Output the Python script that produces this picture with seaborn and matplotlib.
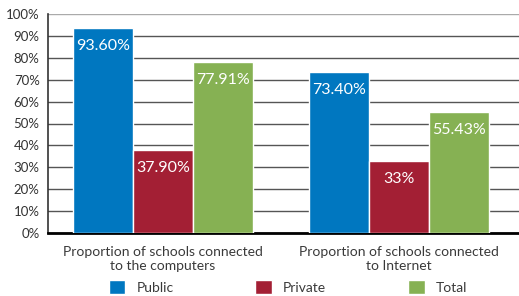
import pandas as pd
import matplotlib
matplotlib.use("Agg")
import matplotlib.pyplot as plt
import seaborn as sns
from matplotlib.patches import Patch

# dati
categories = ["Proportion of schools connected\nto the computers",
              "Proportion of schools connected\nto Internet"]
sectors = ["Public", "Private", "Total"]
public = [93.60, 73.40]
private = [37.90, 33.0]
total = [77.91, 55.43]
labels_public = ["93.60%", "73.40%"]
labels_private = ["37.90%", "33%"]
labels_total = ["77.91%", "55.43%"]
yticks = list(range(0, 101, 10))

colors = {"Public": "#0077c0", "Private": "#a31f34", "Total": "#86b153"}

df = pd.DataFrame({
    "cat": categories * 3,
    "sector": ["Public"] * 2 + ["Private"] * 2 + ["Total"] * 2,
    "value": public + private + total,
})
text_labels = {"Public": labels_public, "Private": labels_private, "Total": labels_total}

sns.set_style("white")
plt.rcParams["font.family"] = ["Lato", "DejaVu Sans"]

fig = plt.figure(figsize=(5.19, 2.96), dpi=100)
ax = fig.add_axes([48 / 519, 63 / 296, 1 - 48 / 519, 219 / 296])

sns.barplot(data=df, x="cat", y="value", hue="sector", hue_order=sectors,
            palette=colors, width=0.763, saturation=1, ax=ax, legend=False, zorder=3)

for cont, s in zip(ax.containers, sectors):
    ax.bar_label(cont, labels=text_labels[s], label_type="edge", padding=-18,
                 color="white", fontsize=11.5)

ax.set_ylim(0, 100)
ax.set_xlim(-0.487, 1.51)
ax.set_yticks(yticks)
ax.set_yticklabels([f"{t}%" for t in yticks], fontsize=9.5, color="#333333")
ax.tick_params(axis="x", labelsize=10, labelcolor="#3a3a3a", length=0, pad=9)
ax.tick_params(axis="y", length=0, pad=6)
ax.set_xlabel("")
ax.set_ylabel("")
ax.yaxis.grid(True, color="#555555", linewidth=1)
ax.set_axisbelow(True)
for sp in ["top", "right"]:
    ax.spines[sp].set_visible(False)
ax.spines["left"].set_color("#333333")
ax.spines["left"].set_linewidth(1.2)
ax.spines["bottom"].set_color("black")
ax.spines["bottom"].set_linewidth(2)
ax.get_ygridlines()[-1].set_color("#aaaaaa")

handles = [Patch(facecolor=colors[s], label=s) for s in sectors]
fig.legend(handles=handles, loc="center left", bbox_to_anchor=(96 / 519, 9 / 296), ncol=3,
           frameon=False, fontsize=10, handlelength=1.2, handleheight=1.2,
           columnspacing=5.9, handletextpad=0.8, labelcolor="#3a3a3a")

fig.savefig("out.png", dpi=100)
